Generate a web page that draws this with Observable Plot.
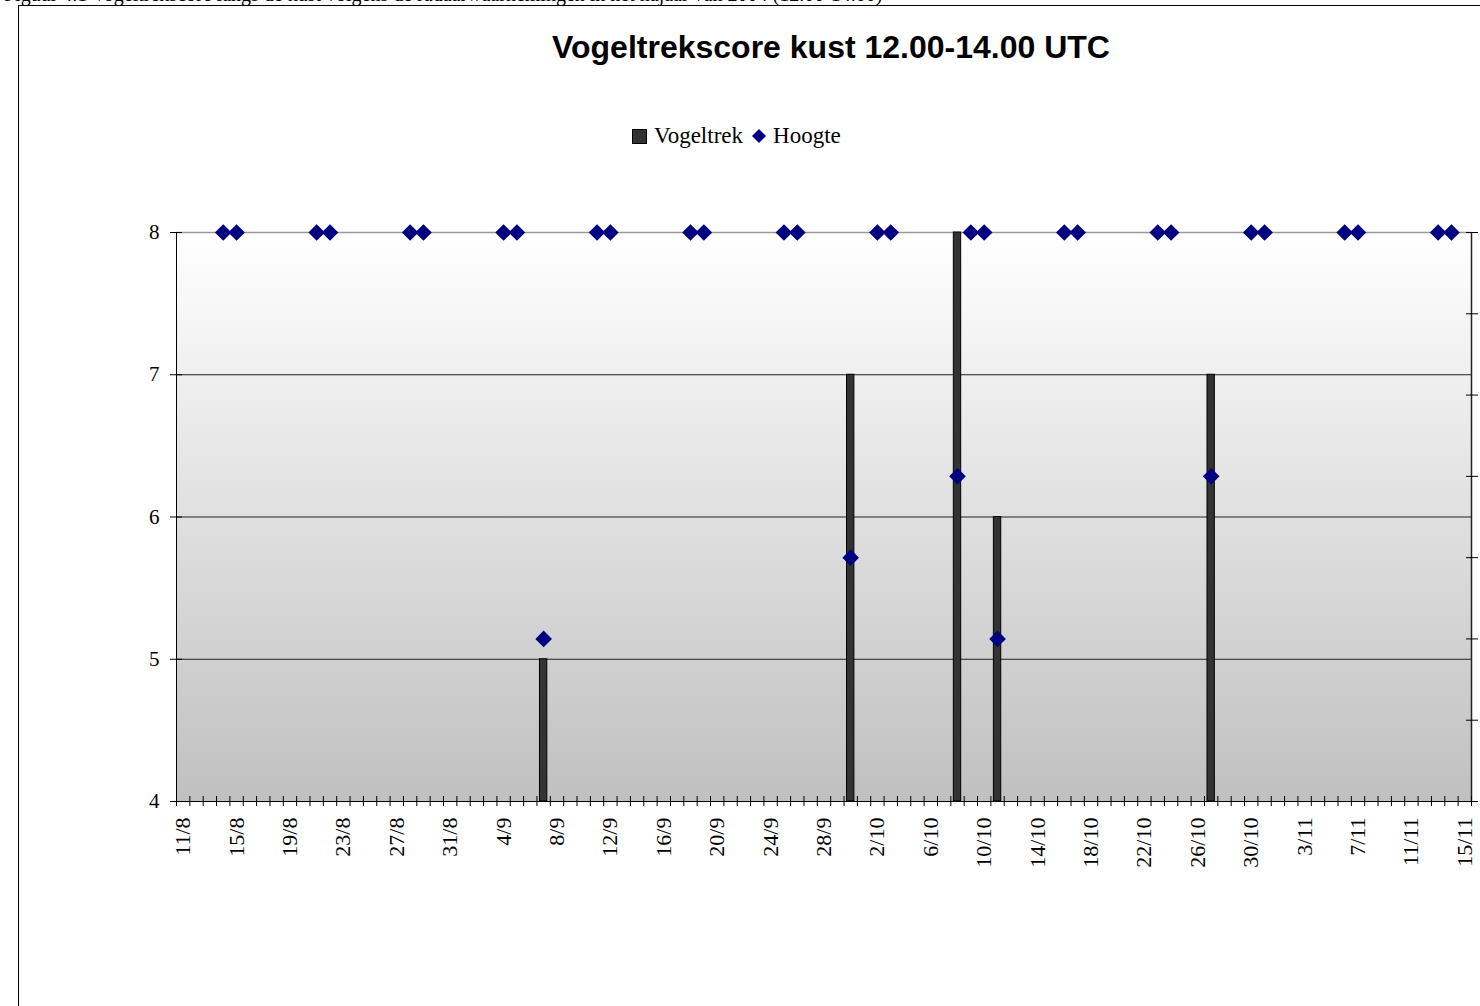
<!DOCTYPE html>
<html>
<head>
<meta charset="utf-8">
<script src="https://cdn.jsdelivr.net/npm/d3@7"></script>
<script src="https://cdn.jsdelivr.net/npm/@observablehq/plot@0.6"></script>
<style>
  html, body { margin: 0; padding: 0; background: #fff; }
  body { width: 1480px; height: 1006px; position: relative; overflow: hidden; font-family: "Liberation Serif", "Times New Roman", serif; }
  #caption { position: absolute; left: 4px; top: -17px; font-size: 20px; line-height: 22px; white-space: nowrap; color: #000; }
  #frame { position: absolute; left: 18px; top: 5px; width: 1600px; height: 1200px; border: 1px solid #000; box-sizing: border-box; }
  #title { position: absolute; left: 0; width: 1662px; top: 29px; text-align: center; font-family: "Liberation Sans", Arial, sans-serif; font-weight: bold; font-size: 32px; line-height: 36px; }
  #legend { position: absolute; left: 632px; top: 122px; display: flex; align-items: center; font-size: 23px; line-height: 28px; white-space: nowrap; }
  #legend .sq { width: 13px; height: 13px; background: #333; border: 1px solid #000; margin-right: 7px; }
  #legend .dm { width: 14px; height: 14px; margin: 0 7px 0 9px; }
  #chart { position: absolute; left: 0; top: 0; }
</style>
</head>
<body>
<div id="caption">Figuur 4.1 Vogeltrekscore langs de kust volgens de radaarwaarnemingen in het najaar van 2004 (12.00-14.00)</div>
<div id="frame"></div>
<div id="title">Vogeltrekscore kust 12.00-14.00 UTC</div>
<div id="legend">
  <div class="sq"></div><span>Vogeltrek</span>
  <svg class="dm" viewBox="-7 -7 14 14"><path d="M0,-7L7,0L0,7L-7,0Z" fill="#000080"/></svg><span>Hoogte</span>
</div>
<div id="chart"></div>
<script>
// ---- Data ----
const firstDay = "2004-08-11";
const lastDay = "2004-11-15";

// Vogeltrek score (left axis, 4..8)
const trekDates  = ["2004-09-07", "2004-09-30", "2004-10-08", "2004-10-11", "2004-10-27"];
const trekScores = [5, 7, 8, 6, 7];

// Hoogte (secondary axis, 0..7)
const hoogteDates = [
  "2004-08-14", "2004-08-15", "2004-08-21", "2004-08-22", "2004-08-28", "2004-08-29",
  "2004-09-04", "2004-09-05", "2004-09-07", "2004-09-11", "2004-09-12", "2004-09-18", "2004-09-19",
  "2004-09-25", "2004-09-26", "2004-09-30", "2004-10-02", "2004-10-03", "2004-10-08",
  "2004-10-09", "2004-10-10", "2004-10-11", "2004-10-16", "2004-10-17", "2004-10-23", "2004-10-24",
  "2004-10-27", "2004-10-30", "2004-10-31", "2004-11-06", "2004-11-07", "2004-11-13", "2004-11-14"
];
const hoogteValues = [
  7, 7, 7, 7, 7, 7,
  7, 7, 2, 7, 7, 7, 7,
  7, 7, 3, 7, 7, 4,
  7, 7, 2, 7, 7, 7, 7,
  4, 7, 7, 7, 7, 7, 7
];

const leftTicks = [4, 5, 6, 7, 8];
const rightTicks = [0, 1, 2, 3, 4, 5, 6, 7];
const tickLabels = ["11/8", "15/8", "19/8", "23/8", "27/8", "31/8", "4/9", "8/9", "12/9", "16/9",
  "20/9", "24/9", "28/9", "2/10", "6/10", "10/10", "14/10", "18/10", "22/10", "26/10",
  "30/10", "3/11", "7/11", "11/11", "15/11"];

// ---- Helpers ----
const DAY = 864e5;
const parse = s => new Date(s + "T00:00:00Z");
const start = parse(firstDay);
const end = new Date(+parse(lastDay) + DAY);
const yMin = 4, yMax = 8, hMax = 7;
const hToY = h => yMin + h * (yMax - yMin) / hMax;

const trek = trekDates.map((d, i) => ({date: parse(d), score: trekScores[i]}));
const hoogte = hoogteDates.map((d, i) => ({date: parse(d), h: hoogteValues[i]}));
const labelDates = tickLabels.map(s => {
  const [d, m] = s.split("/").map(Number);
  return new Date(Date.UTC(2004, m - 1, d, 12));
});
const labelText = new Map(labelDates.map((d, i) => [+d, tickLabels[i]]));
const dayBounds = d3.utcDay.range(start, new Date(+end + 1));

const chart = Plot.plot({
  width: 1480,
  height: 900,
  marginLeft: 176,
  marginRight: 9,
  marginTop: 232,
  marginBottom: 99,
  x: {type: "utc", domain: [start, end]},
  y: {domain: [yMin, yMax]},
  style: {fontFamily: "Liberation Serif, Times New Roman, serif", fontSize: "21px", color: "#000", background: "transparent", overflow: "visible"},
  marks: [
    Plot.frame({fill: "url(#plotbg)", stroke: "none"}),
    Plot.ruleY([5, 6, 7], {stroke: "#222", strokeWidth: 1}),
    Plot.ruleY([yMax], {stroke: "#999", strokeWidth: 1.5}),
    Plot.rect(trek, {
      x1: "date",
      x2: d => new Date(+d.date + DAY),
      y1: yMin,
      y2: "score",
      insetLeft: 3,
      insetRight: 3,
      fill: "#333333",
      stroke: "#000",
      strokeWidth: 1
    }),
    Plot.ruleX([start], {stroke: "#000", strokeWidth: 1}),
    Plot.ruleX([end], {stroke: "#222", strokeWidth: 1.5}),
    Plot.ruleY([yMin], {stroke: "#000", strokeWidth: 1}),
    Plot.dot(hoogte, {
      x: d => new Date(+d.date + DAY / 2),
      y: d => hToY(d.h),
      symbol: "diamond2",
      r: 7.5,
      fill: "#000080",
      stroke: "none"
    }),
    // x axis: crossing day ticks
    Plot.axisX({ticks: dayBounds, tickSize: 10, dy: -5, tickFormat: () => "", label: null, stroke: "#000"}),
    // x axis labels
    Plot.axisX({ticks: labelDates, tickSize: 0, tickPadding: 16, tickRotate: -90, tickFormat: d => labelText.get(+d), label: null, fontSize: 22}),
    // left axis
    Plot.axisY({anchor: "left", ticks: leftTicks, tickSize: 12, dx: 6, tickFormat: () => "", label: null}),
    Plot.axisY({anchor: "left", ticks: leftTicks, tickSize: 0, tickPadding: 17, tickFormat: d => String(d), label: null, fontSize: 21}),
    // right (secondary) axis
    Plot.axisY({anchor: "right", ticks: rightTicks.map(hToY), tickSize: 12, dx: -6, tickFormat: () => "", label: null})
  ]
});

d3.select(chart).insert("defs", ":first-child").html(
  '<linearGradient id="plotbg" x1="0" y1="0" x2="0" y2="1">' +
  '<stop offset="0" stop-color="#ffffff"/><stop offset="1" stop-color="#c0c0c0"/></linearGradient>'
);
document.getElementById("chart").appendChild(chart);
</script>
</body>
</html>
